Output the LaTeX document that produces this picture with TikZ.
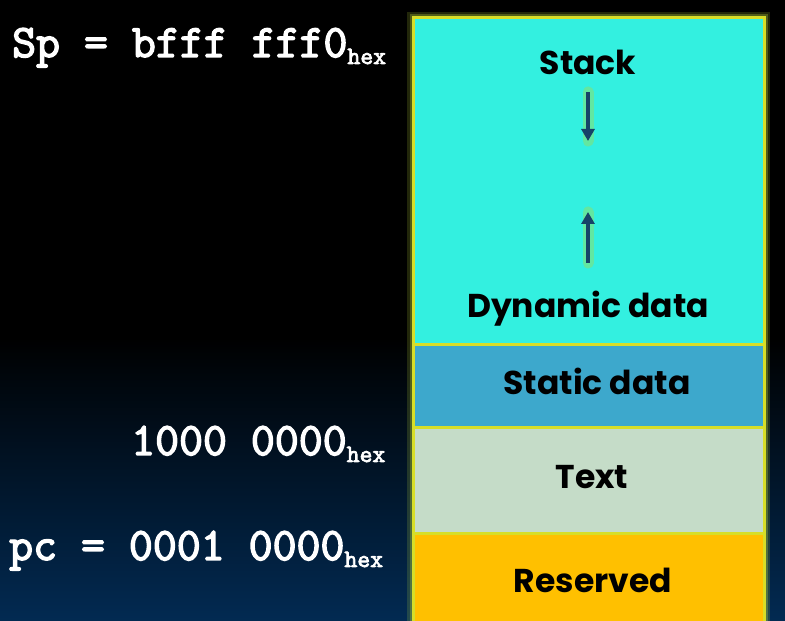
\documentclass[tikz,border=0pt]{standalone}
\usepackage{fontspec}
\usetikzlibrary{arrows.meta}
\newfontfamily\segfont{Poppins}
\newfontfamily\addrfont{Latin Modern Mono}[FakeBold=3]
\definecolor{stackcol}{RGB}{51,240,224}
\definecolor{staticcol}{RGB}{61,168,204}
\definecolor{textcol}{RGB}{197,220,200}
\definecolor{rescol}{RGB}{255,192,0}
\definecolor{edgecol}{RGB}{215,222,40}
\definecolor{glowcol}{RGB}{190,220,60}
\definecolor{arrowglow}{RGB}{130,225,120}
\definecolor{arrowcol}{RGB}{22,66,104}
\definecolor{deepblue}{RGB}{2,42,82}
\newcommand{\hexsub}{\raisebox{-7pt}{\fontsize{25}{25}\selectfont hex}}
\tikzset{
  region/.style={draw=edgecol, line width=3pt, inner sep=0pt, outer sep=0pt,
    minimum width=351pt, anchor=north west},
  seglabel/.style={font=\segfont\bfseries\fontsize{33}{33}\selectfont, text=black, inner sep=0pt},
  addr/.style={font=\addrfont\fontsize{46.5}{46.5}\selectfont, text=white,
    inner sep=0pt, anchor=base west},
  growglow/.style={line width=11pt, arrowglow, opacity=0.6, line cap=round},
  growarrow/.style={line width=4.2pt, arrowcol, -{Triangle[length=12pt,width=13pt]}},
}
\begin{document}
\begin{tikzpicture}[x=1pt,y=1pt]
\useasboundingbox (0,0) rectangle (785,621);
% backdrop: black upper part fading to deep blue at the bottom
\fill[black] (0,0) rectangle (785,621);
\shade[top color=black, bottom color=deepblue] (0,0) rectangle (785,285);
\fill[black] (0,281) rectangle (785,621);

% soft glow around the memory column
\draw[glowcol, opacity=0.18, line width=12pt] (413,-20) -- (413,603) -- (764,603) -- (764,-20);
\draw[glowcol, opacity=0.30, line width=7pt] (413,-20) -- (413,603) -- (764,603) -- (764,-20);

% memory segments
\node[region, fill=stackcol, minimum height=327pt] (stk) at (413,603) {};
\node[region, fill=staticcol, minimum height=83pt] (sta) at (413,276) {};
\node[region, fill=textcol, minimum height=106pt] (txt) at (413,193) {};
\node[region, fill=rescol, minimum height=110pt] (res) at (413,87) {};

% segment labels
\node[seglabel] (stacklbl) at (588,559) {Stack};
\node[seglabel] (dynlbl) at (588,312) {Dynamic data};
\node[seglabel] (statlbl) at (597,240) {Static data};
\node[seglabel] (textlbl) at (592,144) {Text};
\node[seglabel] (reslbl) at (593,41) {Reserved};

% growth directions
\coordinate (sdA) at (588,529);
\coordinate (sdB) at (588,480);
\coordinate (huA) at (588,358);
\coordinate (huB) at (588,409);
\draw[growglow] (sdA) -- (sdB);
\draw[growglow] (huA) -- (huB);
\draw[growarrow] (sdA) -- (sdB);
\draw[growarrow] (huA) -- (huB);

% addresses
\node[addr] (sp) at (12,564) {Sp = bfff fff0\hexsub};
\node[addr] (txtaddr) at (131,166) {1000 0000\hexsub};
\node[addr] (pc) at (9,61) {pc = 0001 0000\hexsub};
\end{tikzpicture}
\end{document}
